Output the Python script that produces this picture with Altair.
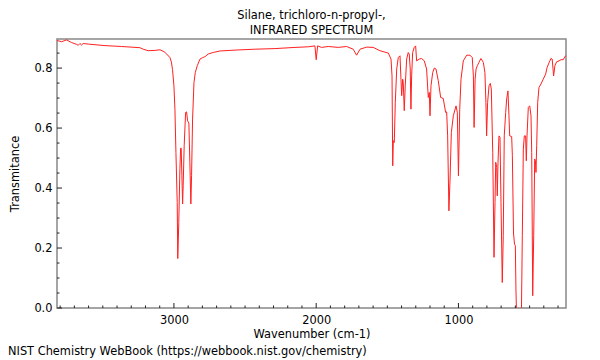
import altair as alt
import pandas as pd

# ---- data ----
wavenumber = [
    3822, 3789, 3754, 3719, 3684, 3673, 3661, 3649, 3638, 3602,
    3485, 3368, 3239, 3216, 3181, 3134, 3098, 3070, 3051, 3028,
    3018, 3010, 3000, 2993, 2986, 2977, 2973, 2966, 2958, 2953,
    2949, 2944, 2939, 2935, 2928, 2918, 2911, 2904, 2895, 2888,
    2881, 2876, 2869, 2859, 2850, 2836, 2817, 2798, 2782, 2759,
    2724, 2677, 2571, 2431, 2290, 2149, 2056, 2009, 2000, 1990,
    1962, 1915, 1845, 1786, 1740, 1716, 1692, 1645, 1599, 1552,
    1493, 1474, 1467, 1462, 1458, 1451, 1444, 1434, 1423, 1411,
    1404, 1399, 1392, 1388, 1381, 1374, 1364, 1353, 1346, 1339,
    1334, 1329, 1322, 1311, 1301, 1294, 1276, 1259, 1240, 1224,
    1212, 1205, 1200, 1193, 1181, 1170, 1158, 1142, 1125, 1107,
    1090, 1083, 1076, 1067, 1059, 1050, 1036, 1017, 1008, 1000,
    991, 982, 966, 942, 919, 903, 895, 890, 883, 876,
    867, 856, 842, 825, 814, 807, 802, 795, 785, 776,
    769, 759, 750, 743, 738, 731, 727, 722, 715, 708,
    701, 692, 685, 678, 668, 661, 652, 645, 640, 626,
    621, 613, 606, 600, 596, 591, 587, 561, 557, 551,
    544, 537, 528, 523, 518, 509, 499, 490, 485, 478,
    471, 464, 459, 455, 450, 443, 434, 420, 404, 387,
    377, 362, 350, 341, 331, 322, 310, 293, 279, 263,
    251, 244,
]
transmittance = [
    0.892, 0.888, 0.894, 0.885, 0.879, 0.876, 0.882, 0.877, 0.882, 0.880,
    0.875, 0.872, 0.868, 0.863, 0.858, 0.859, 0.861, 0.855, 0.847, 0.835,
    0.820, 0.795, 0.741, 0.663, 0.519, 0.352, 0.165, 0.285, 0.464, 0.533,
    0.533, 0.441, 0.347, 0.408, 0.541, 0.652, 0.654, 0.624, 0.617, 0.485,
    0.347, 0.441, 0.630, 0.752, 0.785, 0.808, 0.830, 0.835, 0.838, 0.847,
    0.852, 0.857, 0.860, 0.863, 0.865, 0.869, 0.871, 0.874, 0.828, 0.874,
    0.869, 0.872, 0.869, 0.872, 0.863, 0.843, 0.863, 0.870, 0.869, 0.858,
    0.850, 0.830, 0.774, 0.474, 0.558, 0.552, 0.685, 0.797, 0.835, 0.841,
    0.763, 0.708, 0.763, 0.752, 0.658, 0.741, 0.830, 0.852, 0.847, 0.797,
    0.663, 0.774, 0.852, 0.869, 0.874, 0.824, 0.830, 0.832, 0.824, 0.797,
    0.702, 0.719, 0.641, 0.741, 0.785, 0.800, 0.797, 0.758, 0.702, 0.699,
    0.652, 0.654, 0.574, 0.324, 0.430, 0.585, 0.641, 0.674, 0.652, 0.441,
    0.663, 0.763, 0.824, 0.843, 0.843, 0.835, 0.774, 0.602, 0.763, 0.797,
    0.808, 0.819, 0.832, 0.819, 0.785, 0.685, 0.574, 0.685, 0.741, 0.749,
    0.730, 0.519, 0.169, 0.352, 0.486, 0.469, 0.374, 0.486, 0.574, 0.569,
    0.352, 0.085, 0.241, 0.574, 0.652, 0.697, 0.724, 0.641, 0.574, 0.572,
    0.508, 0.250, 0.213, 0.208, 0.063, -0.030, -0.050, -0.050, 0.000, 0.241,
    0.530, 0.574, 0.574, 0.491, 0.574, 0.669, 0.674, 0.641, 0.519, 0.041,
    0.241, 0.497, 0.491, 0.452, 0.541, 0.685, 0.735, 0.747, 0.763, 0.780,
    0.802, 0.819, 0.832, 0.830, 0.774, 0.808, 0.821, 0.824, 0.828, 0.828,
    0.839, 0.841,
]
assert len(wavenumber) == len(transmittance)

x_major = [3000, 2000, 1000]
x_minor = [3800, 3700, 3600, 3500, 3400, 3300, 3200, 3100,
           2900, 2800, 2700, 2600, 2500, 2400, 2300, 2200, 2100,
           1900, 1800, 1700, 1600, 1500, 1400, 1300, 1200, 1100,
           900, 800, 700, 600, 500, 400, 300]
y_major = [0.0, 0.2, 0.4, 0.6, 0.8]
y_minor = [0.05, 0.1, 0.15, 0.25, 0.3, 0.35, 0.45, 0.5, 0.55,
           0.65, 0.7, 0.75, 0.85]
x_domain = [244, 3822]
y_domain = [0.0, 0.897]

title_lines = ["Silane, trichloro-n-propyl-,", "INFRARED SPECTRUM"]
x_title = "Wavenumber (cm-1)"
y_title = "Transmitance"
footer = "NIST Chemistry WebBook (https://webbook.nist.gov/chemistry)"

W, H = 509, 269
FONT = "DejaVu Sans"
FS = 11.4

xscale = alt.Scale(domain=x_domain, reverse=True, nice=False, zero=False)
yscale = alt.Scale(domain=y_domain, nice=False, zero=False)

x_axis = alt.Axis(values=x_major, format="d", title=x_title,
                  tickSize=0, labelPadding=15, labelBaseline="alphabetic",
                  titleY=29, titleBaseline="alphabetic",
                  domain=False, grid=False)
y_axis = alt.Axis(values=y_major, format=".1f", title=y_title,
                  tickSize=0, labelPadding=5,
                  titleX=-38.5, titleBaseline="alphabetic",
                  domain=False, grid=False)

spec = pd.DataFrame({"wn": wavenumber, "T": transmittance})

line = alt.Chart(spec).mark_line(color="#ff2020", strokeWidth=1, clip=True).encode(
    x=alt.X("wn:Q", scale=xscale, axis=x_axis, title=x_title),
    y=alt.Y("T:Q", scale=yscale, axis=y_axis, title=y_title),
)

xmaj = alt.Chart(pd.DataFrame({"wn": x_major})).mark_rule(color="#222", strokeWidth=1).encode(
    x=alt.X("wn:Q", scale=xscale, axis=x_axis, title=x_title),
    y=alt.value(H), y2=alt.value(H - 5))
xmin = alt.Chart(pd.DataFrame({"wn": x_minor})).mark_rule(color="#222", strokeWidth=1).encode(
    x=alt.X("wn:Q", scale=xscale, axis=x_axis, title=x_title),
    y=alt.value(H), y2=alt.value(H - 2.5))
ymaj = alt.Chart(pd.DataFrame({"T": y_major})).mark_rule(color="#222", strokeWidth=1).encode(
    y=alt.Y("T:Q", scale=yscale, axis=y_axis, title=y_title),
    x=alt.value(0), x2=alt.value(5))
ymin = alt.Chart(pd.DataFrame({"T": y_minor})).mark_rule(color="#222", strokeWidth=1).encode(
    y=alt.Y("T:Q", scale=yscale, axis=y_axis, title=y_title),
    x=alt.value(0), x2=alt.value(2.5))

foot = alt.Chart(pd.DataFrame({"t": [footer]})).mark_text(
    align="left", baseline="alphabetic", font=FONT, fontSize=FS, color="black"
).encode(x=alt.value(-49), y=alt.value(H + 47), text="t:N")

chart = alt.layer(line, xmin, xmaj, ymin, ymaj, foot).properties(
    width=W, height=H,
    autosize=alt.AutoSizeParams(type="none"),
    padding={"left": 49, "top": 31, "right": 10, "bottom": 52},
    title=alt.TitleParams(text=title_lines, font=FONT, fontSize=FS, fontWeight="normal",
                          color="black", anchor="middle", lineHeight=15, offset=3),
).configure_view(
    stroke="#888", strokeWidth=1.5
).configure_axis(
    labelFont=FONT, labelFontSize=FS, labelColor="black",
    titleFont=FONT, titleFontSize=FS, titleColor="black", titleFontWeight="normal",
)

chart.save("out.html", embed_options={"renderer": "svg", "actions": False})
